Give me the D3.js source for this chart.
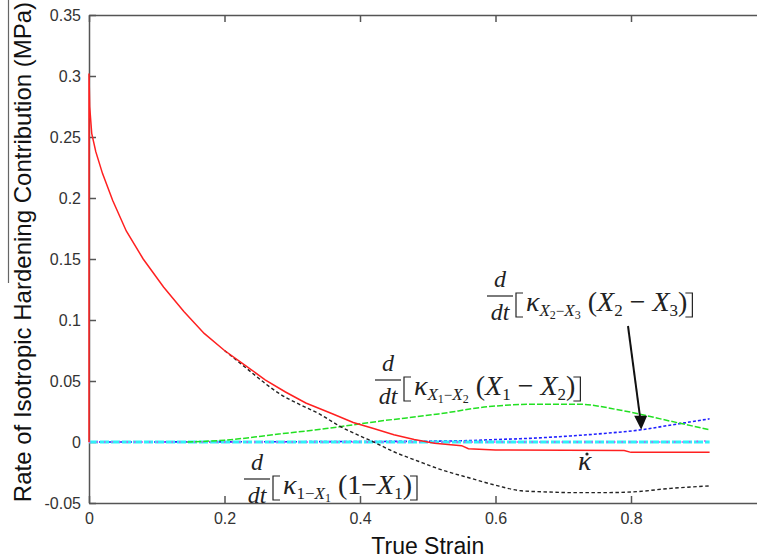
<html>

<head>
  <script src="https://d3js.org/d3.v7.min.js"></script>

  <style>
    body {
      margin: 0;
      background: white;
    }

    .axis text {
      font-family: "Liberation Sans", Arial, sans-serif;
      font-size: 16px;
      fill: #333;
    }

    .axis path,
    .axis line {
      stroke: #555;
      stroke-width: 1.5px;
    }

    .label {
      font-family: "Liberation Sans", Arial, sans-serif;
      font-size: 23px;
      fill: #111;
    }

    .math {
      font-family: "Liberation Serif", "Times New Roman", serif;
      fill: #222;
    }
  </style>
</head>

<body>
  <svg id="chart" width="757" height="558"></svg>

  <script>
    // tick values
    const xTicks = [0, 0.2, 0.4, 0.6, 0.8];
    const yTicks = [-0.05, 0, 0.05, 0.1, 0.15, 0.2, 0.25, 0.3, 0.35];

    // series: [true strain, rate (MPa)]
    const kappaDot = [[0, 0], [0, 0.302], [0.001, 0.275], [0.004, 0.253], [0.01, 0.238], [0.02, 0.220],
    [0.035, 0.198], [0.055, 0.173], [0.08, 0.150], [0.11, 0.127], [0.14, 0.107], [0.17, 0.089],
    [0.2, 0.075], [0.23, 0.063], [0.26, 0.051], [0.29, 0.041], [0.32, 0.032], [0.36, 0.023],
    [0.39, 0.016], [0.42, 0.011], [0.45, 0.006], [0.48, 0.002], [0.51, -0.001], [0.55, -0.003],
    [0.56, -0.0055], [0.6, -0.0065], [0.79, -0.007], [0.8, -0.0085], [0.916, -0.0085]];

    const kappaX1 = [[0.2, 0.075], [0.22, 0.066], [0.24, 0.057], [0.26, 0.048], [0.28, 0.040],
    [0.31, 0.031], [0.34, 0.023], [0.37, 0.013], [0.4, 0.005], [0.42, 0.0], [0.45, -0.008],
    [0.487, -0.016], [0.516, -0.022], [0.565, -0.030], [0.604, -0.036], [0.638, -0.040],
    [0.68, -0.041], [0.712, -0.0415], [0.76, -0.0415], [0.8, -0.041], [0.859, -0.038], [0.916, -0.036]];

    const kappaX2 = [[0.145, 0], [0.2, 0.0015], [0.28, 0.0065], [0.35, 0.011], [0.428, 0.017],
    [0.516, 0.023], [0.59, 0.029], [0.663, 0.031], [0.722, 0.031], [0.785, 0.026],
    [0.859, 0.017], [0.916, 0.010]];

    const kappaX3 = [[0, 0], [0.45, 0.0005], [0.55, 0.001], [0.6, 0.002], [0.65, 0.003],
    [0.712, 0.005], [0.76, 0.007], [0.815, 0.010], [0.86, 0.014], [0.916, 0.019]];

    const kappaX4 = [[0, 0], [0.916, 0]];
    const kappaX5 = [[0, 0], [0.88, 0], [0.916, 0.001]];

    const svg = d3.select("#chart");

    const x = d3.scaleLinear().domain([0, 1]).range([89, 766.5]);
    const y = d3.scaleLinear().domain([-0.05, 0.35]).range([503, 15]);

    const fmt = d => d3.format("")(d).replace("−", "-");

    // frame + axes (ticks point inward like matlab)
    svg.append("g").attr("class", "axis")
      .attr("transform", "translate(0," + y(-0.05) + ")")
      .call(d3.axisBottom(x).tickValues(xTicks).tickSize(-7).tickSizeOuter(0)
        .tickPadding(10).tickFormat(fmt));

    svg.append("g").attr("class", "axis")
      .attr("transform", "translate(0," + y(0.35) + ")")
      .call(d3.axisTop(x).tickValues(xTicks).tickSize(-7).tickSizeOuter(0).tickFormat(""));

    svg.append("g").attr("class", "axis")
      .attr("transform", "translate(" + x(0) + ",0)")
      .call(d3.axisLeft(y).tickValues(yTicks).tickSize(-7).tickSizeOuter(0)
        .tickPadding(8).tickFormat(fmt));

    svg.append("g").attr("class", "axis")
      .attr("transform", "translate(" + x(1) + ",0)")
      .call(d3.axisRight(y).tickValues(yTicks).tickSize(-7).tickSizeOuter(0).tickFormat(""));

    const lineLin = d3.line().x(d => x(d[0])).y(d => y(d[1]));
    const lineSmooth = d3.line().x(d => x(d[0])).y(d => y(d[1])).curve(d3.curveMonotoneX);

    const plot = svg.append("g").attr("fill", "none");

    plot.append("path").datum(kappaX3).attr("d", lineSmooth)
      .attr("stroke", "#2020ff").attr("stroke-width", 1.6).attr("stroke-dasharray", "3,2");

    plot.append("path").datum(kappaX4).attr("d", lineLin)
      .attr("stroke", "#30f0f8").attr("stroke-width", 3).attr("stroke-dasharray", "9,2");

    plot.append("path").datum(kappaX5).attr("d", lineLin)
      .attr("stroke", "#e040f0").attr("stroke-width", 1.6).attr("stroke-dasharray", "1.5,6");

    plot.append("path").datum(kappaX2).attr("d", lineSmooth)
      .attr("stroke", "#22e022").attr("stroke-width", 1.5).attr("stroke-dasharray", "6,2");

    plot.append("path").datum(kappaX1).attr("d", lineSmooth)
      .attr("stroke", "#222").attr("stroke-width", 1.4).attr("stroke-dasharray", "3.5,2.5");

    plot.append("path").datum(kappaDot).attr("d", lineLin)
      .attr("stroke", "#ff2020").attr("stroke-width", 1.5);

    // axis titles
    svg.append("text").attr("class", "label")
      .attr("x", (x(0) + x(1)) / 2).attr("y", 554)
      .attr("text-anchor", "middle")
      .text("True Strain");

    svg.append("text").attr("class", "label")
      .attr("transform", "translate(31,252) rotate(-90)")
      .attr("text-anchor", "middle")
      .style("font-size", "24px")
      .text("Rate of Isotropic Hardening Contribution (MPa)");

    svg.append("line").attr("x1", 8.5).attr("x2", 8.5).attr("y1", 0).attr("y2", 283)
      .attr("stroke", "#666").attr("stroke-width", 1.2);

    // math annotations: parts are [text, size, italic, baseline offset]
    function annotate(cx, base, parts) {
      const g = svg.append("g").attr("class", "math");
      g.append("text").attr("x", cx).attr("y", base - 24).attr("text-anchor", "middle")
        .attr("font-size", 24).attr("font-style", "italic").text("d");
      g.append("line").attr("x1", cx - 13).attr("x2", cx + 13)
        .attr("y1", base - 15).attr("y2", base - 15)
        .attr("stroke", "#222").attr("stroke-width", 1.2);
      g.append("text").attr("x", cx).attr("y", base + 9).attr("text-anchor", "middle")
        .attr("font-size", 24).attr("font-style", "italic").text("dt");

      const bx = cx + 16;
      g.append("path").attr("fill", "none").attr("stroke", "#222").attr("stroke-width", 1.2)
        .attr("d", `M${bx + 7},${base - 18}H${bx}V${base + 6}H${bx + 7}`);

      const t = g.append("text").attr("x", bx + 10).attr("y", base);
      let prev = 0;
      parts.forEach(p => {
        t.append("tspan")
          .attr("font-size", p[1])
          .attr("font-style", p[2] ? "italic" : "normal")
          .attr("dy", p[3] - prev)
          .text(p[0]);
        prev = p[3];
      });
      const ex = bx + 10 + t.node().getComputedTextLength() + 5;
      g.append("path").attr("fill", "none").attr("stroke", "#222").attr("stroke-width", 1.2)
        .attr("d", `M${ex - 7},${base - 18}H${ex}V${base + 6}H${ex - 7}`);
    }

    const K = 28, S = 17, SS = 12, M = 15;
    annotate(500, 311, [["κ", K, true, 0], ["X", S, true, 5], ["2", SS, false, 8], ["−", M, false, 5],
    ["X", S, true, 5], ["3", SS, false, 8], [" (", K, false, 0], ["X", K, true, 0], ["2", S, false, 5],
    [" − ", K, false, 0], ["X", K, true, 0], ["3", S, false, 5], [")", K, false, 0]]);

    annotate(388, 395, [["κ", K, true, 0], ["X", S, true, 5], ["1", SS, false, 8], ["−", M, false, 5],
    ["X", S, true, 5], ["2", SS, false, 8], [" (", K, false, 0], ["X", K, true, 0], ["1", S, false, 5],
    [" − ", K, false, 0], ["X", K, true, 0], ["2", S, false, 5], [")", K, false, 0]]);

    annotate(257, 494, [["κ", K, true, 0], ["1−", S, false, 5], ["X", S, true, 5], ["1", SS, false, 8],
    [" (1−", K, false, 0], ["X", K, true, 0], ["1", S, false, 5], [")", K, false, 0]]);

    // kappa dot label
    const kd = svg.append("g").attr("class", "math");
    kd.append("text").attr("x", 578).attr("y", 470).attr("font-size", K).attr("font-style", "italic").text("κ");
    kd.append("circle").attr("cx", 587).attr("cy", 454).attr("r", 1.6).attr("fill", "#222");

    // arrow to the X2-X3 curve
    const tip = [x(0.815), y(0.010)];
    svg.append("line").attr("x1", 628).attr("y1", 326).attr("x2", tip[0] - 1).attr("y2", tip[1] - 12)
      .attr("stroke", "#111").attr("stroke-width", 2);
    svg.append("path").attr("fill", "#111")
      .attr("d", `M${tip[0]},${tip[1]}L${tip[0] - 7},${tip[1] - 14}L${tip[0] + 6},${tip[1] - 14}Z`);
  </script>
</body>

</html>
